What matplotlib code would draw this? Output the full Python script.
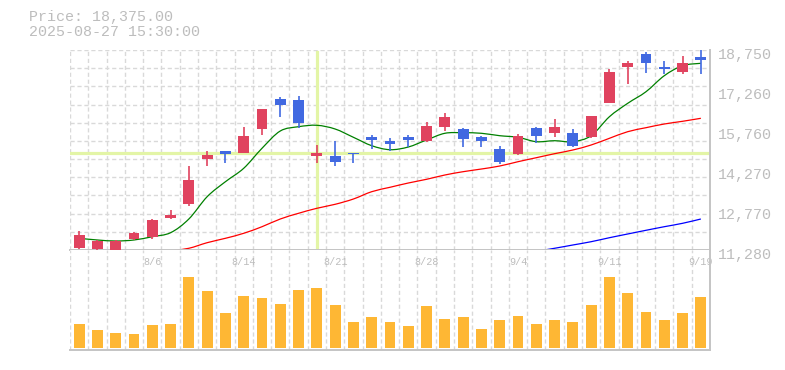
import matplotlib
matplotlib.use("Agg")
import matplotlib.pyplot as plt
import matplotlib.transforms as mtrans
from matplotlib.path import Path
from matplotlib.patches import PathPatch
import numpy as np

# trading days shown on the chart (7/31 .. 9/19)
dates = ["7/31", "8/1", "8/4", "8/5", "8/6", "8/7", "8/8", "8/12", "8/13", "8/14",
         "8/15", "8/18", "8/19", "8/20", "8/21", "8/22", "8/25", "8/26", "8/27", "8/28",
         "8/29", "9/1", "9/2", "9/3", "9/4", "9/5", "9/8", "9/9", "9/10", "9/11",
         "9/12", "9/16", "9/17", "9/18", "9/19"]

opens = [11366, 11329, 11240, 11702, 11777, 12486, 12998, 14690, 14978, 14914,
         15811, 16920, 16882, 14802, 14791, 14914, 15501, 15351, 15501, 15362,
         15885, 15799, 15501, 15052, 14866, 15837, 15650, 15650, 15501, 16770,
         18126, 18601, 18115, 17940, 18489]
highs = [11990, 11654, 11654, 11964, 12449, 12785, 14429, 14978, 14978, 15885,
         16546, 17006, 17032, 15202, 15351, 14914, 15575, 15463, 15575, 16061,
         16397, 15837, 15549, 15164, 15613, 15874, 16173, 15811, 16285, 18040,
         18339, 18687, 18339, 18526, 18800]
lows = [11329, 11254, 11210, 11665, 11702, 12449, 12935, 14429, 14541, 14914,
        15586, 16259, 15826, 14541, 14429, 14541, 15064, 14989, 15138, 15325,
        15736, 15138, 15138, 14503, 14828, 15288, 15501, 15138, 15463, 16770,
        17480, 17902, 17854, 17865, 17865]
closes = [11840, 11627, 11616, 11926, 12412, 12587, 13906, 14828, 14877, 15549,
          16546, 16707, 16035, 14903, 14578, 14877, 15400, 15250, 15400, 15911,
          16248, 15437, 15362, 14578, 15538, 15549, 15885, 15176, 16285, 17928,
          18264, 18276, 18052, 18264, 18375]

ma_short = [11717, 11654, 11616, 11654, 11777, 11926, 12438, 13271, 13831, 14332,
            15079, 15725, 15885, 15938, 15799, 15489, 15176, 15026, 15127, 15389,
            15639, 15661, 15639, 15549, 15489, 15325, 15362, 15325, 15549, 16259,
            16759, 17192, 17790, 18164, 18253]
ma_mid = [np.nan] * 5 + [11243, 11344, 11553, 11717, 11904, 12150, 12438, 12651, 12838,
          12987, 13185, 13458, 13622, 13782, 13921, 14081, 14205, 14305, 14417,
          14578, 14727, 14877, 15015, 15202, 15452, 15699, 15848, 15986, 16087, 16199]
ma_long = [np.nan] * 25 + [11231, 11344, 11467, 11590, 11739, 11878, 12016, 12150,
           12277, 12438]

volumes = [72, 54, 45, 42, 69, 72, 213, 171, 105, 156, 150, 132, 174, 180, 129,
           78, 93, 78, 66, 126, 87, 93, 57, 84, 96, 72, 84, 78, 129, 213, 165,
           108, 84, 105, 153]

ytick_vals = [11280, 12774, 14268, 15762, 17256, 18750]
ytick_labels = ["11,280", "12,770", "14,270", "15,760", "17,260", "18,750"]
xtick_labels = ["8/6", "8/14", "8/21", "8/28", "9/4", "9/11", "9/19"]

cross_idx = 13
cross_price = 14903

UP = "#e0435f"
DOWN = "#4169e1"
GRID = "#d9d9d9"
AXIS = "#c4c4c4"
TXT = "#bdbdbd"
MONO = "Liberation Mono"


def smooth_line(a, xs, ys, color):
    # draws the series through its points as a smooth (catmull-rom) curve
    xs = np.asarray(xs, float)
    ys = np.asarray(ys, float)
    ok = ~np.isnan(ys)
    P = np.column_stack([xs[ok], ys[ok]])
    verts = [P[0]]
    codes = [Path.MOVETO]
    for k in range(len(P) - 1):
        p0 = P[k - 1] if k > 0 else P[k]
        p1, p2 = P[k], P[k + 1]
        p3 = P[k + 2] if k + 2 < len(P) else P[k + 1]
        verts += [p1 + (p2 - p0) / 6, p2 - (p3 - p1) / 6, p2]
        codes += [Path.CURVE4] * 3
    a.add_patch(PathPatch(Path(verts, codes), fc="none", ec=color, lw=0.9, zorder=2))


n = len(dates)
x = np.arange(n)
o = np.array(opens, float)
c = np.array(closes, float)

fig = plt.figure(figsize=(7.85, 3.7), dpi=100)
ax = fig.add_axes([70 / 785, 120 / 370, 640 / 785, 200 / 370])
axv = fig.add_axes([70 / 785, 20 / 370, 640 / 785, 100 / 370])

ymin, ymax = ytick_vals[0], ytick_vals[-1]
for a in (ax, axv):
    a.set_xlim(-0.5, n - 0.5)
    for s in ("top", "left"):
        a.spines[s].set_visible(False)
    for s in ("bottom", "right"):
        a.spines[s].set_color(AXIS)
        a.spines[s].set_linewidth(1.4)
    for gx in np.arange(-0.5, n - 1, 1.0):
        a.axvline(gx, color=GRID, lw=1, ls=(0, (3, 2)), zorder=0)
ax.set_ylim(ymin, ymax)
for gy in np.linspace(ymin, ymax, 12):
    ax.axhline(gy, color=GRID, lw=1, ls=(0, (3, 2)), zorder=0)

# crosshair
ax.axhline(cross_price, color="#e3f5a6", lw=2.3, zorder=1)
ax.axvline(cross_idx, ymin=0.01, ymax=0.99, color="#e3f5a6", lw=2.3, zorder=1)

# moving averages
smooth_line(ax, x, ma_short, "#008000")
smooth_line(ax, x, ma_mid, "#ff0000")
smooth_line(ax, x, ma_long, "#0000ff")

# candles
cols = [UP if cc >= oo else DOWN for oo, cc in zip(o, c)]
ax.vlines(x, lows, highs, colors=cols, lw=1.2, zorder=3)
body = np.maximum(np.abs(c - o), 30)
ax.bar(x, body, bottom=np.minimum(o, c), width=0.6, color=cols, zorder=4)

# volume
axv.bar(x, volumes, width=0.6, color="#feb734", zorder=2)
axv.set_ylim(-0.033 * max(volumes), 1.375 * max(volumes))
axv.set_yticks([])

ax.set_xticks([])
ax.yaxis.tick_right()
ax.set_yticks(ytick_vals)
ax.set_yticklabels(ytick_labels, fontfamily=MONO, fontsize=10.8, color=TXT)
ax.tick_params(axis="y", length=0, pad=6)
shift = mtrans.ScaledTranslation(0, -3 / 100, fig.dpi_scale_trans)
for lab in ax.get_yticklabels():
    lab.set_transform(lab.get_transform() + shift)

axv.set_xticks([dates.index(d) for d in xtick_labels])
axv.set_xticklabels(xtick_labels, fontfamily=MONO, fontsize=7.3, color=TXT)
axv.tick_params(axis="x", length=0, bottom=False, labelbottom=False,
                top=False, labeltop=True, pad=-12)

fig.text(29 / 785, 1 - 17 / 370, "Price: 18,375.00", fontfamily=MONO,
         fontsize=10.8, color=TXT, va="center")
fig.text(29 / 785, 1 - 32.5 / 370, "2025-08-27 15:30:00", fontfamily=MONO,
         fontsize=10.8, color=TXT, va="center")

fig.savefig("out.png", dpi=100)
